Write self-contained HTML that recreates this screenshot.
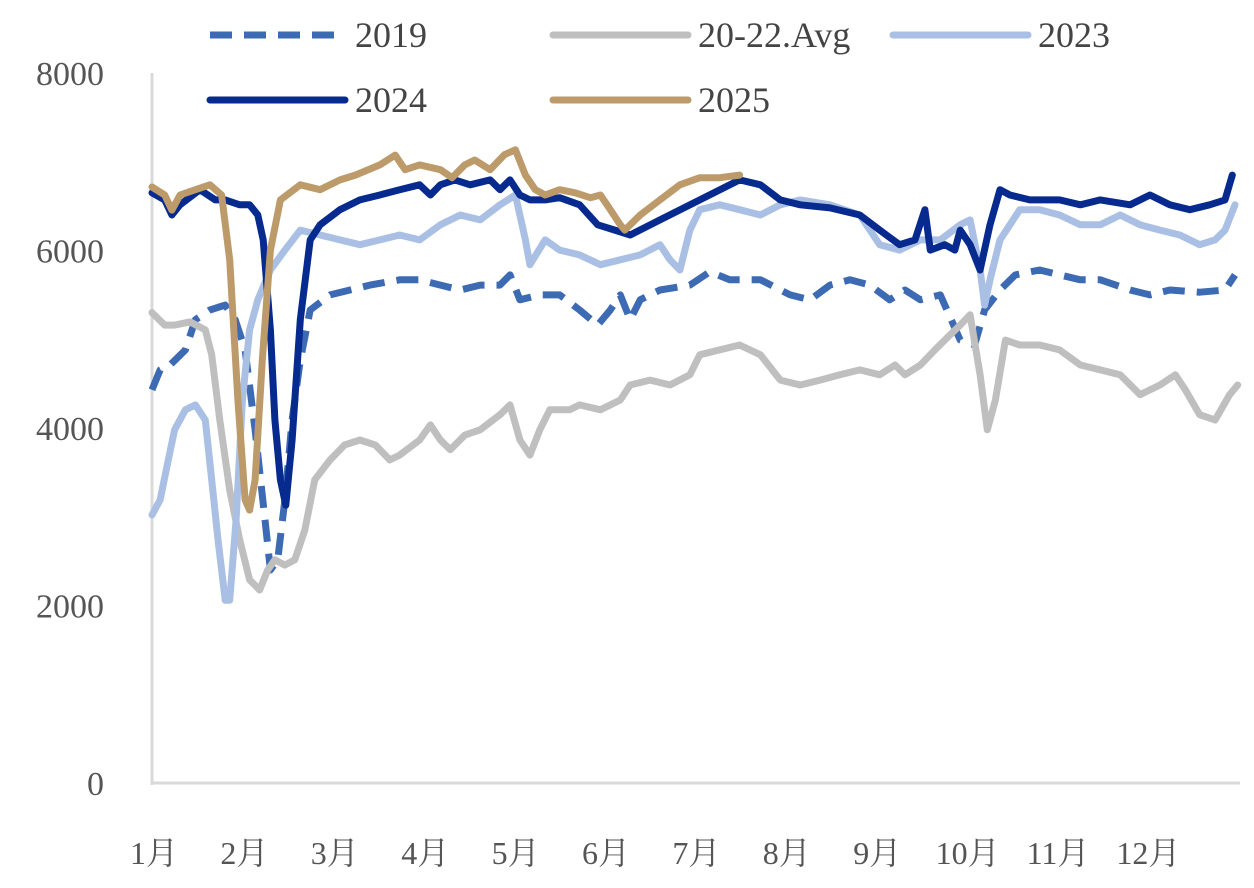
<!DOCTYPE html>
<html><head><meta charset="utf-8"><style>
body{margin:0;background:#fff;}
svg{display:block;font-family:"Liberation Serif","Noto Serif CJK SC",serif;}
</style></head><body>
<svg id="chart" width="1254" height="888" viewBox="0 0 1254 888"></svg>
<script>
const monthLabels=["1月","2月","3月","4月","5月","6月","7月","8月","9月","10月","11月","12月"];
const yTicks=[0,2000,4000,6000,8000];
const seriesNames=["2019","20-22.Avg","2023","2024","2025"];
// x positions in months since Jan 1
const t2019=[0,.09,.2,.37,.48,.64,.81,.92,1.03,1.14,1.25,1.31,1.39,1.47,1.55,1.64,1.75,1.97,2.19,2.41,2.74,2.96,3.19,3.41,3.63,3.85,3.96,4.07,4.29,4.51,4.73,4.93,5.07,5.18,5.29,5.4,5.62,5.95,6.17,6.39,6.73,7.06,7.28,7.5,7.72,7.94,8.16,8.33,8.5,8.72,8.94,9.1,9.21,9.38,9.55,9.82,10.04,10.27,10.49,10.82,11.04,11.26,11.59,11.87,11.98];
const v2019=[4430,4655,4710,4880,5220,5330,5385,5220,4880,3980,2965,2400,2515,3190,4090,4765,5330,5500,5555,5610,5670,5670,5610,5555,5610,5610,5725,5445,5500,5500,5330,5160,5330,5500,5220,5445,5555,5610,5760,5670,5670,5500,5445,5610,5670,5610,5445,5555,5445,5500,4990,4935,5330,5555,5725,5780,5725,5670,5670,5555,5500,5555,5530,5555,5725];
const tAvg=[0,.14,.25,.42,.59,.66,.75,.86,.97,1.08,1.19,1.28,1.36,1.47,1.58,1.69,1.8,1.97,2.13,2.3,2.47,2.63,2.74,2.96,3.08,3.19,3.3,3.46,3.63,3.85,3.96,4.07,4.18,4.29,4.4,4.62,4.73,4.96,5.18,5.29,5.51,5.73,5.95,6.06,6.28,6.5,6.73,6.95,7.17,7.39,7.61,7.83,8.05,8.22,8.33,8.5,8.66,8.83,8.94,9.05,9.16,9.24,9.33,9.44,9.6,9.82,10.04,10.27,10.49,10.71,10.93,11.15,11.32,11.43,11.59,11.76,11.92,12.01];
const vAvg=[5300,5160,5160,5195,5105,4825,4090,3300,2740,2290,2175,2400,2515,2455,2515,2850,3415,3640,3810,3865,3810,3640,3695,3865,4035,3865,3755,3920,3980,4150,4260,3865,3695,3980,4205,4205,4260,4205,4315,4485,4540,4485,4600,4825,4880,4935,4825,4540,4485,4540,4600,4655,4600,4710,4600,4710,4880,5050,5160,5275,4600,3980,4315,4990,4935,4935,4880,4710,4655,4600,4375,4485,4600,4430,4150,4090,4375,4485];
const t2023=[0,.09,.18,.25,.37,.48,.59,.66,.73,.81,.86,.93,1.0,1.08,1.17,1.31,1.47,1.64,1.86,2.08,2.3,2.52,2.74,2.96,3.19,3.41,3.63,3.85,4.02,4.13,4.18,4.35,4.51,4.73,4.96,5.18,5.4,5.62,5.73,5.84,5.95,6.06,6.28,6.5,6.73,6.95,7.17,7.5,7.83,8.05,8.27,8.5,8.72,8.94,9.05,9.16,9.21,9.27,9.38,9.6,9.82,10.04,10.27,10.49,10.71,10.93,11.15,11.37,11.59,11.76,11.87,11.98];
const v2023=[3020,3190,3640,3980,4205,4260,4090,3415,2740,2060,2060,2965,4315,5105,5445,5780,6005,6230,6175,6120,6065,6120,6175,6120,6290,6400,6345,6515,6625,6120,5840,6120,6005,5950,5840,5895,5950,6065,5895,5780,6230,6460,6515,6460,6400,6515,6570,6515,6400,6065,6005,6120,6120,6290,6345,5780,5385,5670,6120,6460,6460,6400,6290,6290,6400,6290,6230,6175,6065,6120,6230,6515];
const t2024=[0,.14,.22,.31,.53,.7,.81,.97,1.08,1.17,1.23,1.31,1.36,1.42,1.48,1.55,1.64,1.75,1.86,2.08,2.3,2.52,2.74,2.96,3.08,3.19,3.35,3.52,3.74,3.85,3.96,4.07,4.18,4.35,4.51,4.73,4.93,5.12,5.29,5.62,6.06,6.5,6.73,6.95,7.17,7.5,7.83,8.05,8.27,8.44,8.55,8.61,8.77,8.88,8.94,9.05,9.16,9.27,9.38,9.49,9.71,10.04,10.27,10.49,10.82,11.04,11.26,11.48,11.7,11.87,11.95];
const v2024=[6650,6570,6400,6515,6685,6570,6570,6515,6515,6400,6120,5105,4090,3415,3130,3865,5220,6120,6290,6460,6570,6625,6685,6740,6625,6740,6795,6740,6795,6685,6795,6625,6570,6570,6595,6515,6290,6230,6175,6345,6570,6795,6740,6570,6515,6480,6400,6230,6065,6120,6460,6005,6065,6005,6230,6065,5780,6290,6685,6625,6570,6570,6515,6570,6515,6625,6515,6460,6515,6570,6850];
const t2025=[0,.14,.22,.31,.48,.64,.77,.86,.95,1.03,1.08,1.14,1.22,1.31,1.42,1.64,1.86,2.08,2.25,2.52,2.69,2.8,2.96,3.19,3.32,3.46,3.57,3.74,3.9,4.02,4.13,4.24,4.35,4.51,4.68,4.85,4.96,5.07,5.18,5.23,5.4,5.62,5.84,6.06,6.28,6.5];
const v2025=[6715,6625,6455,6625,6685,6740,6625,5895,4315,3190,3075,3415,4765,6005,6570,6740,6685,6795,6850,6965,7075,6910,6965,6910,6820,6965,7020,6910,7080,7135,6850,6685,6625,6685,6650,6595,6625,6460,6290,6230,6400,6570,6740,6820,6820,6850];

const NS="http://www.w3.org/2000/svg";
const svg=document.getElementById('chart');
const X0=152,PXM=90.4,Y0=783,YTOP=73;
const xs=t=>X0+t*PXM;
const ys=v=>Y0-(v/8000)*(Y0-YTOP);
function mk(tag,attrs,parent){const e=document.createElementNS(NS,tag);for(const k in attrs)e.setAttribute(k,attrs[k]);(parent||svg).appendChild(e);return e;}

const axis=mk('line',{x1:X0,y1:YTOP,x2:X0,y2:Y0+2,stroke:'#d9d9d9','stroke-width':3});


const xaxis=mk('line',{x1:X0,y1:Y0,x2:1240,y2:Y0,stroke:'#d9d9d9','stroke-width':3});



yTicks.forEach(v=>{
  const t=mk('text',{x:104,y:ys(v)+12,'text-anchor':'end','font-size':34,fill:'#555'});
  t.textContent=v;
  
  
});
monthLabels.forEach((m,i)=>{
  const t=mk('text',{x:xs(i)+2,y:864,'text-anchor':'middle','font-size':32,fill:'#555'});
  t.textContent=m;
  
  
});

const styles=[
 {c:'#3d6bb3',d:'22 12',tx:t2019,vy:v2019},
 {c:'#bfbfbf',d:'',tx:tAvg,vy:vAvg},
 {c:'#a9bfe3',d:'',tx:t2023,vy:v2023},
 {c:'#062a8e',d:'',tx:t2024,vy:v2024},
 {c:'#bd9a6a',d:'',tx:t2025,vy:v2025}
];
styles.forEach((s,i)=>{
  const pts=s.tx.map((t,j)=>xs(t).toFixed(1)+','+ys(s.vy[j]).toFixed(1)).join(' ');
  const p=mk('polyline',{points:pts,fill:'none',stroke:s.c,'stroke-width':7,'stroke-linejoin':'round','stroke-linecap':s.d?'butt':'round'});
  if(s.d)p.setAttribute('stroke-dasharray',s.d);
  
  
});

const legPos=[[210,35],[553,35],[893,35],[210,100],[553,100]];
seriesNames.forEach((n,i)=>{
  const s=styles[i];const [lx,ly]=legPos[i];
  const g=mk('g',{});
  
  
  const l=mk('line',{x1:lx,y1:ly,x2:lx+135,y2:ly,stroke:s.c,'stroke-width':7,'stroke-linecap':s.d?'butt':'round'},g);
  if(s.d)l.setAttribute('stroke-dasharray','22 12');
  const t=mk('text',{x:lx+145,y:ly+12,'font-size':36,fill:'#444'},g);
  t.textContent=n;
});
</script>
</body></html>
